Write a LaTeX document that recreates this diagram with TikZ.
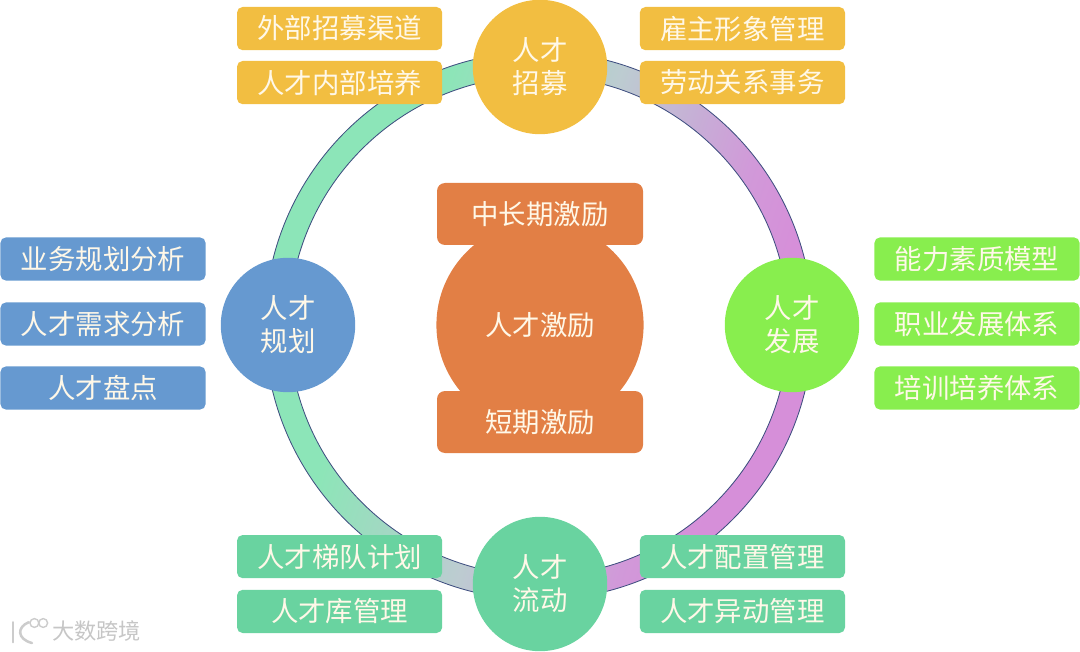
\documentclass[tikz,border=0pt]{standalone}
\usepackage{fontspec}
\setmainfont{Noto Sans CJK SC}
\usepackage{xcolor}
\usepackage{tikz}
\definecolor{zhaomu}{HTML}{F2BE41}
\definecolor{guihua}{HTML}{6699D0}
\definecolor{fazhan}{HTML}{88EE4E}
\definecolor{liudong}{HTML}{69D3A0}
\definecolor{jili}{HTML}{E27F45}
\definecolor{ringline}{HTML}{3F4F80}
\definecolor{labeltext}{HTML}{FFF8E8}
\pgfdeclarehorizontalshading{ringgrad}{100bp}{
  rgb(0bp)=(0.55,0.90,0.72);
  rgb(35bp)=(0.55,0.90,0.72);
  rgb(42bp)=(0.63,0.85,0.76);
  rgb(50bp)=(0.74,0.80,0.82);
  rgb(58bp)=(0.78,0.68,0.84);
  rgb(64bp)=(0.82,0.60,0.85);
  rgb(70bp)=(0.84,0.56,0.85);
  rgb(100bp)=(0.84,0.56,0.85)}
\tikzset{
  itembox/.style={rectangle, rounded corners=0.14cm, minimum width=5.13cm, minimum height=1.08cm,
    inner sep=0pt, text=labeltext, font=\fontsize{19.5}{23}\selectfont},
  hub/.style={circle, minimum size=3.36cm, inner sep=0pt, align=center, text=labeltext,
    font=\fontsize{19.5}{23.5}\selectfont},
  midbox/.style={rectangle, rounded corners=0.2cm, minimum width=5.15cm, minimum height=1.55cm,
    inner sep=0pt, fill=jili, text=labeltext, font=\fontsize{19.5}{23}\selectfont}
}
\begin{document}
\begin{tikzpicture}
\useasboundingbox (0,0) rectangle (27,16.275);
% ring
\shade[shading=ringgrad, shading angle=-18, even odd rule] (13.47,8.13) circle (6.85) (13.47,8.13) circle (6.25);
\draw[ringline, line width=0.6pt] (13.47,8.13) circle (6.85);
\draw[ringline, line width=0.6pt] (13.47,8.13) circle (6.25);
% hubs
\node[hub, fill=zhaomu] (zhaomuhub) at (13.5,14.6) {人才\\招募};
\node[hub, fill=guihua] (guihuahub) at (7.2,8.15) {人才\\规划};
\node[hub, fill=fazhan] (fazhanhub) at (19.8,8.15) {人才\\发展};
\node[hub, fill=liudong] (liudonghub) at (13.5,1.675) {人才\\流动};
% top boxes
\node[itembox, fill=zhaomu] (t1) at (8.49,15.56) {外部招募渠道};
\node[itembox, fill=zhaomu] (t2) at (8.49,14.21) {人才内部培养};
\node[itembox, fill=zhaomu] (t3) at (18.56,15.56) {雇主形象管理};
\node[itembox, fill=zhaomu] (t4) at (18.56,14.21) {劳动关系事务};
% left boxes
\node[itembox, fill=guihua] (l1) at (2.575,9.8) {业务规划分析};
\node[itembox, fill=guihua] (l2) at (2.575,8.175) {人才需求分析};
\node[itembox, fill=guihua] (l3) at (2.575,6.575) {人才盘点};
% right boxes
\node[itembox, fill=fazhan] (r1) at (24.425,9.8) {能力素质模型};
\node[itembox, fill=fazhan] (r2) at (24.425,8.175) {职业发展体系};
\node[itembox, fill=fazhan] (r3) at (24.425,6.575) {培训培养体系};
% bottom boxes
\node[itembox, fill=liudong] (b1) at (8.49,2.36) {人才梯队计划};
\node[itembox, fill=liudong] (b2) at (8.49,0.99) {人才库管理};
\node[itembox, fill=liudong] (b3) at (18.56,2.36) {人才配置管理};
\node[itembox, fill=liudong] (b4) at (18.56,0.99) {人才异动管理};
% centre
\node[circle, minimum size=5.18cm, inner sep=0pt, fill=jili, text=labeltext, font=\fontsize{19.5}{23}\selectfont] (jilimid) at (13.5,8.15) {人才激励};
\node[midbox] (jilitop) at (13.5,10.925) {中长期激励};
\node[midbox] (jilibot) at (13.5,5.725) {短期激励};
% watermark
\draw[gray!40, line width=1.8pt, line cap=round] (0.32,0.72) -- (0.32,0.22);
\draw[gray!40, line width=1.8pt, line cap=round] (0.72,0.72) .. controls (0.42,0.6) and (0.42,0.3) .. (0.8,0.2);
\draw[gray!40, line width=1pt] (0.86,0.7) circle (0.11);
\draw[gray!40, line width=1pt] (1.08,0.7) circle (0.11);
\node[anchor=west, inner sep=0pt, text=gray!45, font=\fontsize{15.8}{18}\selectfont] (mark) at (1.3,0.5) {大数跨境};
\end{tikzpicture}
\end{document}
